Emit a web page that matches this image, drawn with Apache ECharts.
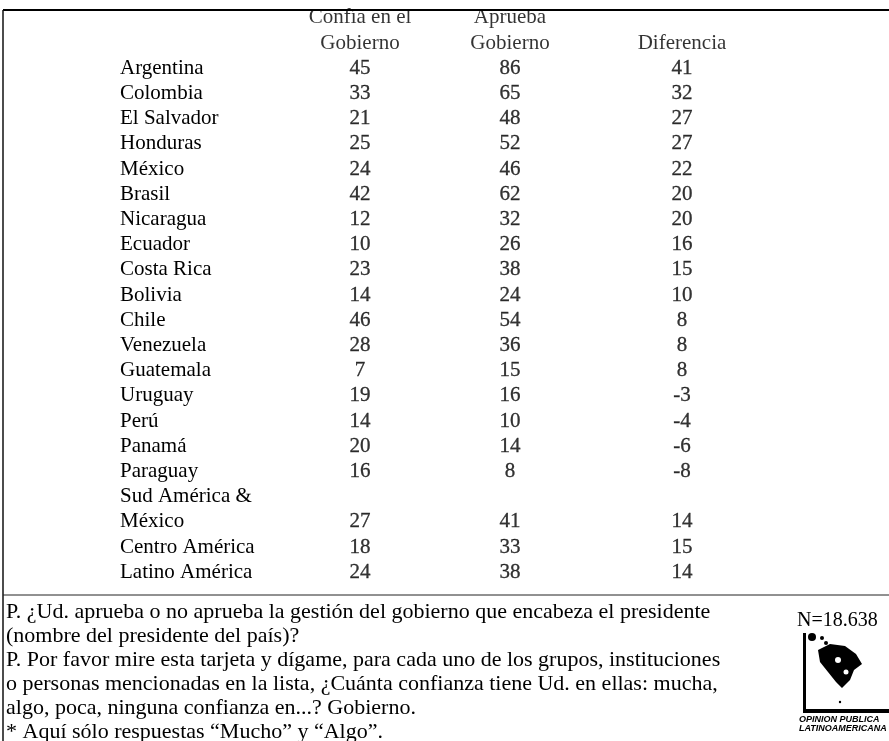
<!DOCTYPE html>
<html>
<head>
<meta charset="utf-8">
<script src="https://cdn.jsdelivr.net/npm/echarts@6/dist/echarts.min.js"></script>
<style>
  html, body { margin: 0; padding: 0; background: #fff; }
  #chart { width: 889px; height: 741px; }
</style>
</head>
<body>
<div id="chart"></div>
<script>
// filas de la tabla
const paises = [
  'Argentina', 'Colombia', 'El Salvador', 'Honduras', 'México', 'Brasil',
  'Nicaragua', 'Ecuador', 'Costa Rica', 'Bolivia', 'Chile', 'Venezuela',
  'Guatemala', 'Uruguay', 'Perú', 'Panamá', 'Paraguay',
  'Sud América &', 'México', 'Centro América', 'Latino América'
]
const confia = [45, 33, 21, 25, 24, 42, 12, 10, 23, 14, 46, 28, 7, 19, 14, 20, 16, null, 27, 18, 24]
const aprueba = [86, 65, 48, 52, 46, 62, 32, 26, 38, 24, 54, 36, 15, 16, 10, 14, 8, null, 41, 33, 38]
const diferencia = [41, 32, 27, 27, 22, 20, 20, 16, 15, 10, 8, 8, 8, -3, -4, -6, -8, null, 14, 15, 14]
const encabezados = ['Confía en el\nGobierno', 'Aprueba\nGobierno', 'Diferencia']

const notas = [
  'P. ¿Ud. aprueba o no aprueba la gestión del gobierno que encabeza el presidente',
  '(nombre del presidente del país)?',
  'P. Por favor mire esta tarjeta y dígame, para cada uno de los grupos, instituciones',
  'o personas mencionadas en la lista, ¿Cuánta confianza tiene Ud. en ellas: mucha,',
  'algo, poca, ninguna confianza en...? Gobierno.',
  '* Aquí sólo respuestas “Mucho” y “Algo”.'
]

// posicion horizontal de cada columna (layout)
const colX = [360, 510, 682]
const FONT = 'Liberation Serif'
const INK = '#000'

const chart = echarts.init(document.getElementById('chart'))

function columna(valores, idx) {
  const data = valores.map((v, i) => (v === null ? null : { value: [colX[idx], i + 1], v: v }))
  return {
    type: 'scatter',
    symbolSize: 0,
    silent: true,
    data: data,
    label: {
      show: true,
      position: 'inside',
      formatter: p => String(p.data.v),
      fontFamily: FONT,
      fontSize: 21,
      color: INK,
      textBorderColor: INK,
      textBorderWidth: 0.3
    }
  }
}

const header = {
  type: 'scatter',
  symbolSize: 0,
  silent: true,
  data: encabezados.map((t, i) => ({ value: [colX[i], 0], t: t })),
  label: {
    show: true,
    position: 'inside',
    formatter: p => p.data.t,
    fontFamily: FONT,
    fontSize: 21,
    lineHeight: 26,
    color: INK
  },
  labelLayout: p => (p.text.indexOf('\n') >= 0 ? { dy: -13 } : {})
}

const option = {
  backgroundColor: '#fff',
  animation: false,
  grid: { left: 115, right: 0, top: 30.4, bottom: 156.2 },
  xAxis: {
    type: 'value',
    min: 115,
    max: 889,
    show: false
  },
  yAxis: {
    type: 'category',
    inverse: true,
    data: [''].concat(paises),
    axisLine: { show: false },
    axisTick: { show: false },
    splitLine: { show: false },
    axisLabel: {
      inside: true,
      margin: 5,
      align: 'left',
      fontFamily: FONT,
      fontSize: 21,
      color: INK,
      interval: 0
    }
  },
  series: [header, columna(confia, 0), columna(aprueba, 1), columna(diferencia, 2)],
  graphic: [
    { type: 'line', shape: { x1: 3, y1: 10, x2: 889, y2: 10 }, style: { stroke: '#000', lineWidth: 2 } },
    { type: 'line', shape: { x1: 3, y1: 10, x2: 3, y2: 741 }, style: { stroke: '#111', lineWidth: 1.5 } },
    { type: 'line', shape: { x1: 3, y1: 595, x2: 889, y2: 595 }, style: { stroke: '#222', lineWidth: 1 } },
    {
      type: 'text', left: 6, top: 600,
      style: { text: notas.join('\n'), font: '22px "Liberation Serif"', lineHeight: 24, fill: INK }
    },
    {
      type: 'text', left: 797, top: 611,
      style: { text: 'N=18.638', font: '20px "Liberation Serif"', fill: INK }
    },
    // logo
    { type: 'rect', shape: { x: 803, y: 633, width: 3, height: 80 }, style: { fill: '#000' } },
    { type: 'rect', shape: { x: 803, y: 709, width: 86, height: 4 }, style: { fill: '#000' } },
    {
      type: 'polygon',
      shape: { points: [[818, 650], [830, 644], [845, 646], [856, 654], [862, 664], [854, 670], [850, 680], [842, 688], [836, 682], [828, 672], [820, 662]] },
      style: { fill: '#000' }
    },
    { type: 'circle', shape: { cx: 812, cy: 637, r: 4 }, style: { fill: '#000' } },
    { type: 'circle', shape: { cx: 822, cy: 638, r: 2 }, style: { fill: '#000' } },
    { type: 'circle', shape: { cx: 826, cy: 643, r: 2 }, style: { fill: '#000' } },
    { type: 'circle', shape: { cx: 840, cy: 702, r: 1.2 }, style: { fill: '#000' } },
    { type: 'circle', shape: { cx: 838, cy: 660, r: 3 }, style: { fill: '#fff' } },
    { type: 'circle', shape: { cx: 846, cy: 672, r: 2.5 }, style: { fill: '#fff' } },
    {
      type: 'text', left: 799, top: 715,
      style: { text: 'OPINION PUBLICA\nLATINOAMERICANA', font: 'italic bold 9px "Liberation Sans"', lineHeight: 9, fill: '#000' }
    }
  ]
}

chart.setOption(option)
</script>
</body>
</html>
